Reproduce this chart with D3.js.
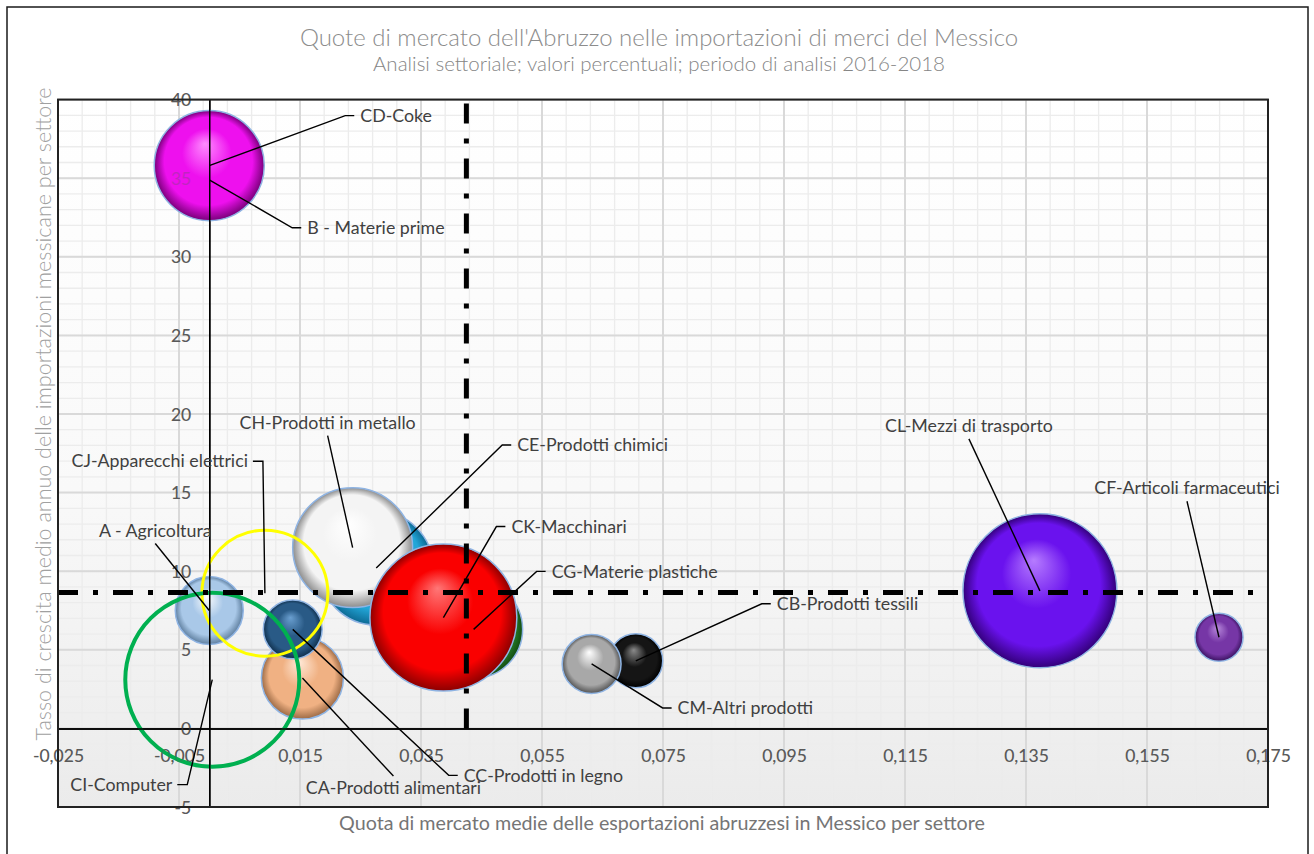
<!DOCTYPE html>
<html>
<head>
<meta charset="utf-8">
<script src="https://cdn.jsdelivr.net/npm/d3@7"></script>
<style>
  body { margin: 0; background: #fff; }
  text { font-family: Lato, "Open Sans", sans-serif; }
</style>
</head>
<body>
<div id="chart"></div>
<script>
// sectors, drawn back to front
var codes  = ["B", "CD", "CE", "CH", "CG", "CK", "CA", "CC", "A", "CB", "CM", "CL", "CF", "CJ", "CI"]
var labels = ["B - Materie prime", "CD-Coke", "CE-Prodotti chimici", "CH-Prodotti in metallo",
              "CG-Materie plastiche", "CK-Macchinari", "CA-Prodotti alimentari", "CC-Prodotti in legno",
              "A - Agricoltura", "CB-Prodotti tessili", "CM-Altri prodotti", "CL-Mezzi di trasporto",
              "CF-Articoli farmaceutici", "CJ-Apparecchi elettrici", "CI-Computer"]
// quota di mercato (x), tasso di crescita (y), peso (bubble size)
var quota  = [0, 0, 0.0276, 0.0237, 0.0437, 0.0387, 0.0154, 0.0138, 0, 0.0705, 0.0632, 0.1373, 0.1669, 0.0092, 0.0005]
var tasso  = [34.9, 35.8, 10.2, 11.5, 6.3, 7.05, 3.2, 6.3, 7.5, 4.3, 4.1, 8.75, 5.8, 8.6, 3.1]
var peso   = [1.61, 3.04, 3.26, 3.61, 2.41, 5.42, 1.69, 0.87, 1.16, 0.73, 0.87, 5.95, 0.58, 3.98, 7.6]

// averages (reference lines)
var mediaQuota = 0.0425
var mediaTasso = 8.65

var xTicks = [-0.025, -0.005, 0.015, 0.035, 0.055, 0.075, 0.095, 0.115, 0.135, 0.155, 0.175]
var yTicks = [-5, 0, 5, 10, 15, 20, 25, 30, 35, 40]

// styles
var colors = {
  A:  ["#ffffff", "#a9c8e8", "#5f7f9f"],
  B:  ["#ff80ff", "#ee00ee", "#800080"],
  CA: ["#ffe9d8", "#f0b183", "#9c6a45"],
  CB: ["#8a8a8a", "#151515", "#000000"],
  CC: ["#6a9fd0", "#295a86", "#10304d"],
  CD: ["#ff8cff", "#ee10ee", "#7a007a"],
  CE: ["#8adaf7", "#22a6d8", "#0d6a94"],
  CF: ["#b889dc", "#7636a6", "#3a1260"],
  CG: ["#70cc70", "#2e8e2e", "#124d12"],
  CH: ["#ffffff", "#f4f4f4", "#8c8c8c"],
  CK: ["#ff7777", "#fa0000", "#8c0000"],
  CL: ["#b67cff", "#6a12ee", "#33007a"],
  CM: ["#ffffff", "#a8a8a8", "#545454"]
}
var rings = { CI: ["#00b050", 4], CJ: ["#ffff00", 3] }

// label layout: side of leader, offset of text from the bubble centre (px)
var labelPos = {
  CD: ["right", 151, -50], B: ["right", 98, 48], CH: ["above", -25, -125],
  CJ: ["left", -17, -132], A: ["above", -54, -80], CE: ["right", 141, -123],
  CK: ["right", 68, -91], CG: ["right", 78, -58], CB: ["right", 141, -57],
  CM: ["right", 86, 44], CC: ["right", 171, 146], CA: ["below", 91, 110],
  CI: ["left", -40, 105], CL: ["above", -71, -165], CF: ["above", -32, -149]
}

var width = 1314
var height = 854
var plotL = 58, plotR = 1268, plotT = 99.6, plotB = 807

var svg = d3.select("#chart")
    .append("svg")
    .attr("width", width)
    .attr("height", height)

var defs = svg.append("defs")

var x = d3.scaleLinear().domain([-0.025, 0.175]).range([plotL, plotR])
var y = d3.scaleLinear().domain([-5, 40]).range([plotB, plotT])
var size = d3.scaleSqrt().domain([0, 7.6]).range([0, 87])

var data = codes.map(function(c, i) {
  return { code: c, label: labels[i], x: quota[i], y: tasso[i], size: peso[i] }
})

// outer frame
svg.append("rect").attr("x", 7).attr("y", 7).attr("width", 1301).attr("height", 900)
    .style("fill", "#fff").style("stroke", "#1a1a1a").style("stroke-width", 1.5)

// plot background
var bg = defs.append("linearGradient").attr("id", "bg").attr("x1", 0).attr("y1", 0).attr("x2", 0).attr("y2", 1)
bg.append("stop").attr("offset", "0%").attr("stop-color", "#ffffff")
bg.append("stop").attr("offset", "55%").attr("stop-color", "#f9f9f9")
bg.append("stop").attr("offset", "100%").attr("stop-color", "#ebebeb")
svg.append("rect").attr("x", plotL).attr("y", plotT).attr("width", plotR - plotL).attr("height", plotB - plotT)
    .style("fill", "url(#bg)")

// minor grid
var grid = svg.append("g")
grid.selectAll(".mx").data(d3.range(0, 51).map(function(i) { return -0.025 + i * 0.004 }))
    .enter().append("line")
    .attr("x1", function(d) { return x(d) }).attr("x2", function(d) { return x(d) })
    .attr("y1", plotT).attr("y2", plotB)
    .style("stroke", "#ececec").style("stroke-width", 1.3)
grid.selectAll(".my").data(d3.range(-5, 41))
    .enter().append("line")
    .attr("y1", function(d) { return y(d) }).attr("y2", function(d) { return y(d) })
    .attr("x1", plotL).attr("x2", plotR)
    .style("stroke", "#ececec").style("stroke-width", 1.3)
// major grid
grid.selectAll(".Mx").data(xTicks)
    .enter().append("line")
    .attr("x1", function(d) { return x(d) }).attr("x2", function(d) { return x(d) })
    .attr("y1", plotT).attr("y2", plotB)
    .style("stroke", "#d9d9d9").style("stroke-width", 2)
grid.selectAll(".My").data(yTicks)
    .enter().append("line")
    .attr("y1", function(d) { return y(d) }).attr("y2", function(d) { return y(d) })
    .attr("x1", plotL).attr("x2", plotR)
    .style("stroke", "#d9d9d9").style("stroke-width", 2)

// axes through zero
var fmt = function(d) { return d3.format(".3f")(d).replace(".", ",").replace("−", "-") }
var xAxis = d3.axisBottom(x).tickValues(xTicks).tickSize(0).tickPadding(18).tickFormat(fmt)
var yAxis = d3.axisLeft(y).tickValues(yTicks).tickSize(0).tickPadding(18).tickFormat(function(d) { return d })

function drawAxes(opacity) {
  var gx = svg.append("g").attr("transform", "translate(0," + y(0) + ")").call(xAxis)
  gx.select(".domain").style("stroke", "#000").style("stroke-width", 1.5)
  gx.selectAll("text").style("font-size", "17.5px").style("fill", "#595959").attr("dy", "0.9em")
      .style("opacity", opacity)
  var gy = svg.append("g").attr("transform", "translate(" + x(0) + ",0)").call(yAxis)
  gy.select(".domain").style("stroke", "#000").style("stroke-width", 1.5)
  gy.selectAll("text").style("font-size", "17.5px").style("fill", "#595959").attr("dy", "0.35em")
      .style("opacity", opacity)
}
drawAxes(1)

// bubble gradients
Object.keys(colors).forEach(function(c) {
  var g = defs.append("radialGradient").attr("id", "g-" + c)
      .attr("cx", "50%").attr("cy", "50%").attr("r", "50%").attr("fx", "46%").attr("fy", "30%")
  g.append("stop").attr("offset", "0%").attr("stop-color", colors[c][0])
  g.append("stop").attr("offset", "45%").attr("stop-color", colors[c][1])
  g.append("stop").attr("offset", "80%").attr("stop-color", colors[c][1])
  g.append("stop").attr("offset", "100%").attr("stop-color", colors[c][2])
})

// bubbles
svg.append("g").selectAll("circle")
    .data(data)
    .enter()
    .append("circle")
    .attr("cx", function(d) { return x(d.x) })
    .attr("cy", function(d) { return y(d.y) })
    .attr("r", function(d) { return size(d.size) })
    .style("fill", function(d) { return rings[d.code] ? "none" : "url(#g-" + d.code + ")" })
    .style("stroke", function(d) { return rings[d.code] ? rings[d.code][0] : "#8fb4e3" })
    .style("stroke-width", function(d) { return rings[d.code] ? rings[d.code][1] : 1.5 })

// axis lines and faint labels seen through the bubbles
drawAxes(0.3)

// reference lines (averages)
svg.append("line")
    .attr("x1", x(-0.025)).attr("x2", x(0.175))
    .attr("y1", y(mediaTasso)).attr("y2", y(mediaTasso))
    .style("stroke", "#000").style("stroke-width", 5).style("stroke-dasharray", "20,15,5,15")
svg.append("line")
    .attr("x1", x(mediaQuota)).attr("x2", x(mediaQuota))
    .attr("y1", y(40) + 4).attr("y2", y(0))
    .style("stroke", "#000").style("stroke-width", 5).style("stroke-dasharray", "20,15,5,15")

// data labels with leader lines
var lab = svg.append("g")
data.forEach(function(d) {
  var p = labelPos[d.code]
  var px = x(d.x), py = y(d.y)
  var tx = px + p[1], ty = py + p[2]
  var pts
  if (p[0] == "right") pts = [[px, py], [tx - 15, ty], [tx - 6, ty]]
  else if (p[0] == "left") pts = [[px, py], [tx + 15, ty], [tx + 5, ty]]
  else if (p[0] == "above") pts = [[px, py], [tx, ty + 13]]
  else pts = [[px, py], [tx, ty - 12]]
  lab.append("path").attr("d", d3.line()(pts))
      .style("fill", "none").style("stroke", "#000").style("stroke-width", 1.4)
  lab.append("text")
      .attr("x", tx).attr("y", ty).attr("dy", "0.35em")
      .attr("text-anchor", p[0] == "right" ? "start" : p[0] == "left" ? "end" : "middle")
      .style("font-size", "17.8px").style("fill", "#404040")
      .text(d.label)
})

// plot border on top
svg.append("rect").attr("x", plotL).attr("y", plotT).attr("width", plotR - plotL).attr("height", plotB - plotT)
    .style("fill", "none").style("stroke", "#222").style("stroke-width", 2)

// titles
svg.append("text").attr("x", 659).attr("y", 46).attr("text-anchor", "middle")
    .style("font-size", "24px").style("font-weight", 300).style("fill", "#8c8c8c")
    .text("Quote di mercato dell'Abruzzo  nelle importazioni di merci del Messico")
svg.append("text").attr("x", 659).attr("y", 71).attr("text-anchor", "middle")
    .style("font-size", "20.5px").style("font-weight", 300).style("fill", "#858585")
    .text("Analisi settoriale; valori percentuali; periodo di analisi 2016-2018")
svg.append("text").attr("transform", "translate(51,414) rotate(-90)").attr("text-anchor", "middle")
    .style("font-size", "21.5px").style("font-weight", 300).style("fill", "#a0a0a0")
    .text("Tasso di crescita medio annuo delle importazioni messicane per settore")
svg.append("text").attr("x", 662).attr("y", 830).attr("text-anchor", "middle")
    .style("font-size", "19.7px").style("fill", "#757575")
    .text("Quota di mercato medie delle esportazioni abruzzesi in Messico per settore")
</script>
</body>
</html>
